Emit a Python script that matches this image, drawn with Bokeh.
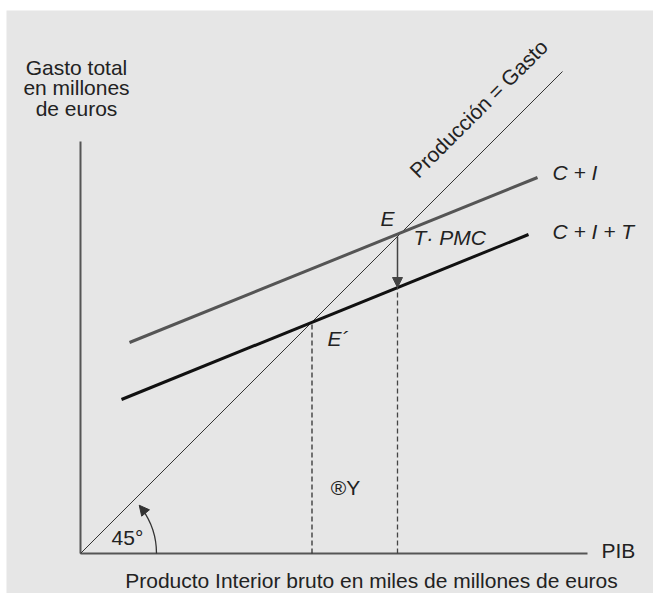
import numpy as np
from bokeh.plotting import figure
from bokeh.models import Range1d, Arrow, NormalHead
from bokeh.core.properties import value
from bokeh.embed import file_html
from bokeh.resources import INLINE

# ---- data (diagram units) ----
axis_y_top = 82.4
axis_x_end = 101.4
line45_end = 96.4
ci_x = [9.8, 91.4]
ci_y = [42.2, 75.2]
cit_x = [8.2, 89.6]
cit_y = [30.8, 63.8]
eq_E = 63.4          # x where the T·PMC arrow drops
eq_E_top = 63.4
eq_E_bottom = 53.2
eq_E2 = 46.3
arc_radius = 15.2
arc_end_deg = 39.4

FONT = value("Liberation Sans")
FS = "21px"
TXT = "#222222"

p = figure(width=653, height=593, output_backend="svg", toolbar_location=None,
           x_axis_location=None, y_axis_location=None,
           x_range=Range1d(-14.8, 114.6), y_range=Range1d(-8, 108.6),
           min_border_left=6, min_border_right=0, min_border_top=10, min_border_bottom=0,
           background_fill_color="#e6e6e6", border_fill_color="#ffffff",
           outline_line_color=None)
p.grid.visible = False

# axes
p.line([0, 0], [0, axis_y_top], line_color="#555555", line_width=2)
p.line([0, axis_x_end], [0, 0], line_color="#555555", line_width=2)

# 45 degree line
p.line([0, line45_end], [0, line45_end], line_color="#333333", line_width=1)

# C + I and C + I + T
p.line(ci_x, ci_y, line_color="#555555", line_width=3)
p.line(cit_x, cit_y, line_color="#111111", line_width=3)

# dashed verticals
p.line([eq_E2, eq_E2], [0, eq_E2], line_color="#333333", line_width=1.3, line_dash="5 3")
p.line([eq_E, eq_E], [0, eq_E_bottom], line_color="#444444", line_width=1.3, line_dash="5 3")

# T·PMC arrow
p.add_layout(Arrow(x_start=eq_E, y_start=eq_E_top, x_end=eq_E, y_end=eq_E_bottom,
                   line_color="#444444", line_width=1.5,
                   end=NormalHead(size=10, fill_color="#444444", line_color="#444444")))

# 45° arc with arrow
a_end = np.deg2rad(arc_end_deg)
p.arc(x=[0], y=[0], radius=arc_radius, start_angle=0, end_angle=a_end - 0.06,
      line_color="#333333", line_width=1.3)
tip_x = arc_radius * np.cos(a_end)
tip_y = arc_radius * np.sin(a_end)
p.add_layout(Arrow(x_start=tip_x + 1.5 * np.sin(a_end), y_start=tip_y - 1.5 * np.cos(a_end),
                   x_end=tip_x, y_end=tip_y, line_color="#333333", line_width=1.3,
                   end=NormalHead(size=10, fill_color="#333333", line_color="#333333")))

# labels
ylab_lines = ["Gasto total", "en millones", "de euros"]
ylab_y = [97.2, 93.2, 89.0]
p.text(x=[-0.8] * 3, y=ylab_y, text=ylab_lines, text_font=FONT, text_font_size=FS,
       text_color=TXT, text_align="center", text_baseline="middle")

p.text(x=[104.2], y=[0.6], text=["PIB"], text_font=FONT, text_font_size=FS,
       text_color=TXT, text_align="left", text_baseline="middle")
p.text(x=[58.2], y=[-5.3], text=["Producto Interior bruto en miles de millones de euros"],
       text_font=FONT, text_font_size=FS, text_color=TXT,
       text_align="center", text_baseline="middle")

p.text(x=[94.4, 94.4], y=[76.2, 64.4], text=["C + I", "C + I + T"], text_font=FONT,
       text_font_size=FS, text_font_style="italic", text_color=TXT,
       text_align="left", text_baseline="middle")

p.text(x=[61.4], y=[67.0], text=["E"], text_font=FONT, text_font_size=FS,
       text_font_style="italic", text_color=TXT, text_align="center", text_baseline="middle")
p.text(x=[66.6], y=[63.2], text=["T· PMC"], text_font=FONT, text_font_size=FS,
       text_font_style="italic", text_color=TXT, text_align="left", text_baseline="middle")
p.text(x=[49.4], y=[43.0], text=["E´"], text_font=FONT, text_font_size=FS,
       text_font_style="italic", text_color=TXT, text_align="left", text_baseline="middle")
p.text(x=[53.0], y=[13.2], text=["®Y"], text_font=FONT, text_font_size=FS,
       text_color=TXT, text_align="center", text_baseline="middle")
p.text(x=[9.4], y=[3.2], text=["45°"], text_font=FONT, text_font_size=FS,
       text_color=TXT, text_align="center", text_baseline="middle")

p.text(x=[79.6], y=[89.0], text=["Producción = Gasto"], angle=np.pi / 4,
       text_font=FONT, text_font_size=FS, text_color=TXT,
       text_align="center", text_baseline="middle")

open("out.html", "w").write(file_html(p, INLINE))
